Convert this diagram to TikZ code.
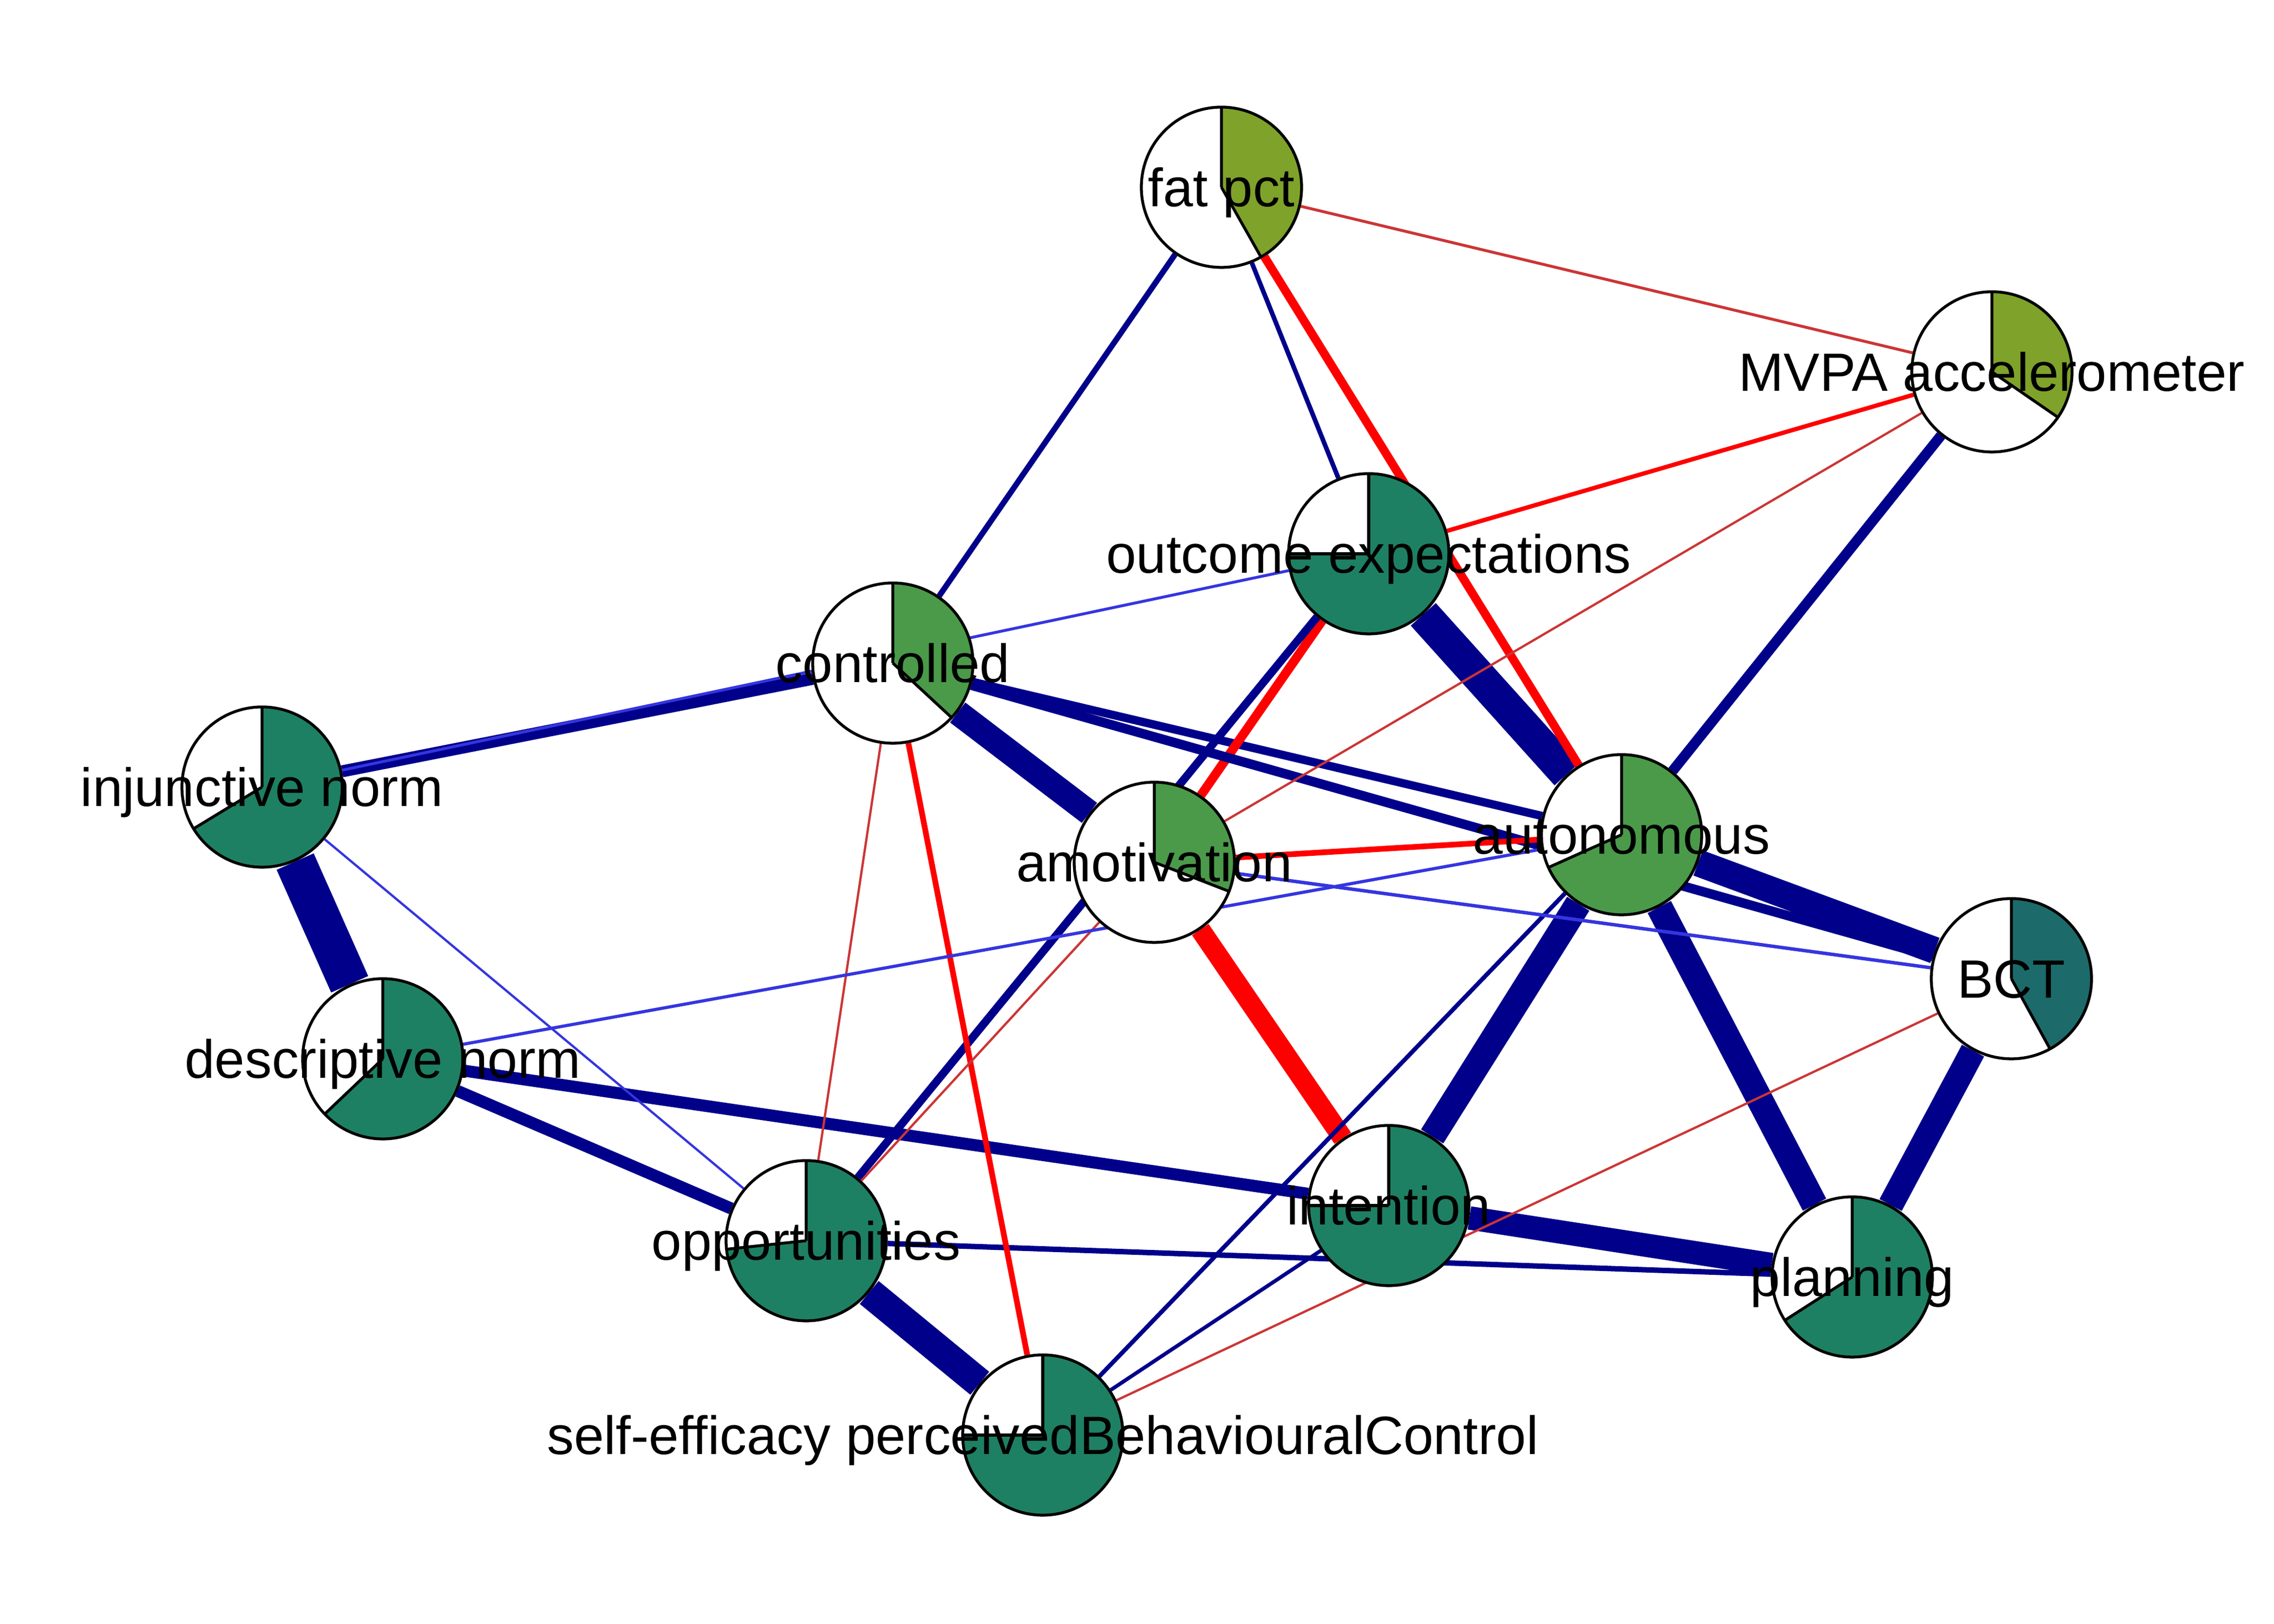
\documentclass[tikz,border=0pt]{standalone}
\usepackage{fontspec}
\setmainfont{Liberation Sans}
\usetikzlibrary{backgrounds}
\definecolor{olivepie}{HTML}{7FA22A}
\definecolor{midgreen}{HTML}{4A9A4A}
\definecolor{darkgreen}{HTML}{1E8062}
\definecolor{tealpie}{HTML}{1C6B6A}
\definecolor{posedge}{HTML}{00008B}
\definecolor{poslight}{HTML}{3535E0}
\definecolor{negedge}{HTML}{FF0000}
\definecolor{neglight}{HTML}{CC3535}
\tikzset{
  pie/.style={circle, draw, line width=0.5pt, fill=white, minimum size=0.9867cm, inner sep=0pt},
  lbl/.style={font=\fontsize{9.45}{11}\selectfont, inner sep=0pt, text height=6.77pt, text depth=0pt},
  poslink/.style={draw=posedge},
  poslinklt/.style={draw=poslight},
  neglink/.style={draw=negedge},
  neglinklt/.style={draw=neglight},
}
\begin{document}
\begin{tikzpicture}[x=0.3333cm,y=0.3333cm]
\useasboundingbox (0,0) rectangle (42,30);
% nodes: name/x/y/share/colour/label
\foreach \nm/\px/\py/\share/\col/\lab in {
  fat/22.56/26.54/0.418/olivepie/fat pct,
  mvpa/36.79/23.13/0.346/olivepie/MVPA accelerometer,
  outc/25.28/19.77/0.75/darkgreen/outcome expectations,
  ctrl/16.49/17.75/0.369/midgreen/controlled,
  inj/4.84/15.46/0.663/darkgreen/injunctive norm,
  desc/7.07/10.44/0.629/darkgreen/descriptive norm,
  amot/21.32/14.07/0.309/midgreen/amotivation,
  auto/29.95/14.58/0.683/midgreen/autonomous,
  bct/37.15/11.92/0.42/tealpie/BCT,
  intn/25.65/7.73/0.75/darkgreen/intention,
  opp/14.89/7.08/0.733/darkgreen/opportunities,
  plan/34.21/6.41/0.659/darkgreen/planning,
  seff/19.26/3.49/0.75/darkgreen/self-efficacy perceivedBehaviouralControl}
  \node[pie, label={[lbl, name=\nm-l]center:\lab}, path picture={
      \fill[\col] (path picture bounding box.center) -- ++(90:0.4933cm)
        arc[start angle=90, delta angle=-360*\share, radius=0.4933cm] -- cycle;
      \draw[line width=0.5pt] (path picture bounding box.center) -- ++(90:0.4933cm)
        (path picture bounding box.center) -- ++(90-360*\share:0.4933cm);
    }] (\nm) at (\px,\py) {};

% edges
\begin{scope}[on background layer]
\draw[poslink, line width=7.1pt] (inj) -- (desc);
\draw[poslink, line width=5.9pt] (outc) -- (auto);
\draw[poslink, line width=5.2pt] (opp) -- (seff);
\draw[poslink, line width=4.7pt] (auto) -- (bct);
\draw[poslink, line width=4.4pt] (ctrl) -- (amot);
\draw[poslink, line width=4.6pt] (auto) -- (intn);
\draw[poslink, line width=4.6pt] (auto) -- (plan);
\draw[poslink, line width=4.4pt] (bct) -- (plan);
\draw[poslink, line width=4.1pt] (intn) -- (plan);
\draw[neglink, line width=3.5pt] (amot) -- (intn);
\draw[poslink, line width=2.1pt] (desc) -- (intn);
\draw[poslink, line width=2.1pt] (desc) -- (opp);
\draw[poslink, line width=2.1pt] (inj) -- (ctrl);
\draw[poslink, line width=1.45pt] (ctrl) -- (auto);
\draw[poslink, line width=1.8pt] (mvpa) -- (auto);
\draw[neglink, line width=1.6pt] (outc) -- (amot);
\draw[neglink, line width=1.5pt] (fat) -- (auto);
\draw[poslink, line width=1.65pt] (ctrl) -- (bct);
\draw[poslink, line width=1.4pt] (outc) -- (opp);
\draw[poslink, line width=1pt] (fat) -- (ctrl);
\draw[poslink, line width=0.95pt] (opp) -- (plan);
\draw[neglink, line width=1pt] (ctrl) -- (seff);
\draw[neglink, line width=1pt] (amot) -- (auto);
\draw[poslink, line width=0.8pt] (fat) -- (outc);
\draw[neglink, line width=0.75pt] (mvpa) -- (outc);
\draw[poslink, line width=0.75pt] (auto) -- (seff);
\draw[poslink, line width=0.65pt] (intn) -- (seff);
\draw[neglinklt, line width=0.5pt] (fat) -- (mvpa);
\draw[neglinklt, line width=0.4pt] (mvpa) -- (amot);
\draw[neglinklt, line width=0.4pt] (ctrl) -- (opp);
\draw[neglinklt, line width=0.4pt] (amot) -- (opp);
\draw[neglinklt, line width=0.4pt] (bct) -- (seff);
\draw[poslinklt, line width=0.5pt] (outc) -- (inj);
\draw[poslinklt, line width=0.6pt] (amot) -- (bct);
\draw[poslinklt, line width=0.55pt] (desc) -- (auto);
\draw[poslinklt, line width=0.4pt] (inj) -- (opp);
\end{scope}
\end{tikzpicture}
\end{document}
